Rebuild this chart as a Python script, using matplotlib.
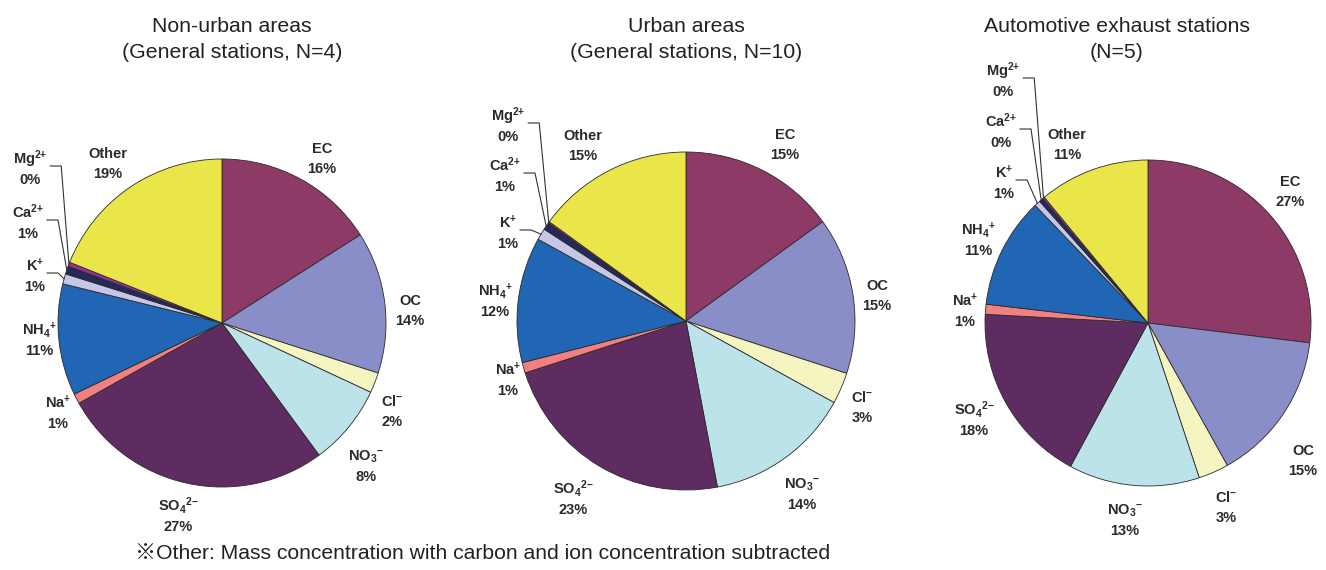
import matplotlib
matplotlib.use("Agg")
import numpy as np
import matplotlib.pyplot as plt

W, H = 1326, 570

# component order, clockwise from 12 o'clock
components = ["EC", "OC", "Cl$^{-}$", "NO$_3$$^{-}$", "SO$_4$$^{2{-}}$", "Na$^{+}$",
              "NH$_4$$^{+}$", "K$^{+}$", "Ca$^{2{+}}$", "Mg$^{2{+}}$", "Other"]
colors = ["#8E3A66", "#8A8EC8", "#F5F5C2", "#BCE3E9", "#5E2C60", "#F28080",
          "#2066B4", "#C6C6E6", "#27285A", "#9A2F9E", "#EAE64A"]

titles = ["Non-urban areas\n(General stations, N=4)",
          "Urban areas\n(General stations, N=10)",
          "Automotive exhaust stations\n(N=5)"]

# mass share (%) of each component
nonurban = [16, 14, 2, 8, 27, 1, 11, 1.0, 0.8, 0.4, 19]
urban = [15, 15, 3, 14, 23, 1, 12, 1.1, 0.7, 0.15, 15]
roadside = [27, 15, 3, 13, 18, 1, 11, 0.6, 0.4, 0.2, 11]
shares = [nonurban, urban, roadside]

footnote = "\u203bOther: Mass concentration with carbon and ion concentration subtracted"

# layout in pixels (y measured from the top)
centers = [(222, 323), (686, 321), (1148, 323)]
radii = [164, 169, 163]
title_x = [232, 686, 1117]
label_pos = [
    [(322, 158), (410, 310), (392, 411), (366, 466), (178, 516), (58, 413),
     (39, 340), (35, 276), (28, 223), (30, 169), (108, 163)],
    [(785, 144), (877, 295), (862, 407), (802, 494), (573, 499), (508, 380),
     (495, 301), (508, 233), (505, 176), (508, 126), (583, 145)],
    [(1290, 191), (1303, 460), (1226, 507), (1125, 520), (974, 420), (965, 311),
     (978, 240), (1004, 183), (1001, 132), (1003, 81), (1067, 144)],
]
leader_idx = [7, 8, 9]  # K+, Ca2+, Mg2+ get leader lines

plt.rcParams["mathtext.default"] = "regular"
lbl_font = dict(family=["Liberation Sans", "DejaVu Sans"], fontweight="bold",
                fontsize=10.5, color="#2b2b2b")
title_font = dict(family=["Liberation Sans", "Noto Sans CJK JP"], color="#222222")

fig = plt.figure(figsize=(W / 100, H / 100), dpi=100)
ax = fig.add_axes([0, 0, 1, 1])

def Y(y):
    return H - y

label_texts = []
all_wedges = []
for k in range(3):
    cx, cy = centers[k]
    wedges, _ = ax.pie(shares[k], colors=colors, startangle=90, counterclock=False,
                       center=(cx, Y(cy)), radius=radii[k],
                       wedgeprops=dict(edgecolor="#2a2a2a", linewidth=0.6))
    all_wedges.append(wedges)
    line1, line2 = titles[k].split("\n")
    ax.text(title_x[k], Y(32), line1, ha="center", va="baseline", fontsize=15.3, **title_font)
    ax.text(title_x[k], Y(58), line2, ha="center", va="baseline", fontsize=15.3, **title_font)
    row = []
    for i, name in enumerate(components):
        lx, ly = label_pos[k][i]
        t = ax.text(lx, Y(ly - 5), name, ha="center", va="baseline", **lbl_font)
        ax.text(lx, Y(ly + 15), f"{round(shares[k][i])}%", ha="center",
                va="baseline", **lbl_font)
        row.append(t)
    label_texts.append(row)

ax.set_xlim(0, W)
ax.set_ylim(0, H)
ax.set_aspect("equal")
ax.axis("off")

ax.text(135, Y(559), footnote, ha="left", va="baseline", fontsize=15.2, **title_font)

# leader lines from the small-slice labels to their wedges
fig.canvas.draw()
for k in range(3):
    cx, cy = centers[k]
    for i in leader_idx:
        bb = label_texts[k][i].get_window_extent()
        lx, ly = label_pos[k][i]
        x0 = bb.x1 + 3
        y0 = Y(ly - 3)
        w = all_wedges[k][i]
        mid = np.deg2rad((w.theta1 + w.theta2) / 2)
        ex = cx + radii[k] * np.cos(mid)
        ey = Y(cy) + radii[k] * np.sin(mid)
        ax.plot([x0, x0 + 11, ex], [y0, y0, ey], color="#333333", lw=0.8)

fig.savefig("out.png", dpi=100)
